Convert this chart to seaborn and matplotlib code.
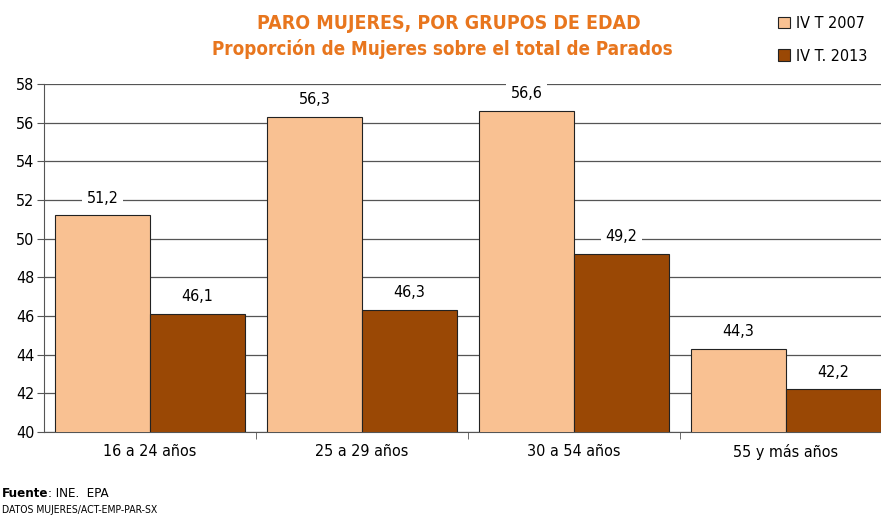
import seaborn as sns
import matplotlib.pyplot as plt
import pandas as pd

# datos
grupos = ['16 a 24 años', '25 a 29 años', '30 a 54 años', '55 y más años']
serie_2007 = [51.2, 56.3, 56.6, 44.3]
serie_2013 = [46.1, 46.3, 49.2, 42.2]
series = ['IV T 2007', 'IV T. 2013']
colores = ['#F9C192', '#9A4805']

df = pd.DataFrame({
    'grupo': grupos * 2,
    'valor': serie_2007 + serie_2013,
    'serie': [series[0]] * 4 + [series[1]] * 4,
})

sns.set_style('white', {'text.color': 'black', 'xtick.color': 'black',
                        'ytick.color': 'black'})
plt.rcParams['font.family'] = ['DejaVu Sans']
plt.rcParams['font.stretch'] = 'condensed'

fig = plt.figure(figsize=(8.81, 5.16), dpi=100)
ax = fig.add_axes([44 / 881, 0.163, 848 / 881, 0.674])

sns.barplot(data=df, x='grupo', y='valor', hue='serie', palette=colores,
            saturation=1, width=0.896, edgecolor='#222222', linewidth=0.8,
            ax=ax, zorder=3)

ax.set_ylim(40, 58)
ax.set_yticks(range(40, 59, 2))
ax.set_xlim(-0.5, 3.5)
ax.yaxis.grid(True, color='#555555', linewidth=0.9, zorder=0)
ax.set_axisbelow(True)
ax.set_xlabel('')
ax.set_ylabel('')
for lado in ['top', 'right']:
    ax.spines[lado].set_visible(False)
for lado in ['left', 'bottom']:
    ax.spines[lado].set_color('#555555')

ax.tick_params(axis='y', length=5, color='#555555', labelsize=11.5, pad=2, left=True,
               labelcolor='black')
ax.tick_params(axis='x', length=0, labelsize=11.5, pad=9, labelcolor='black')
ax.set_xticks([0.5, 1.5, 2.5], minor=True)
ax.tick_params(axis='x', which='minor', length=5, color='#555555', bottom=True)

for cont in ax.containers:
    ax.bar_label(cont, labels=[f'{v:.1f}'.replace('.', ',') for v in cont.datavalues],
                 padding=7, fontsize=11.5, color='black',
                 bbox=dict(facecolor='white', edgecolor='none', pad=3))

leg = ax.legend(loc='upper left', bbox_to_anchor=(0.849, 1.237), frameon=False,
                fontsize=11.5, handlelength=0.7, handleheight=0.7, handletextpad=0.4,
                labelspacing=1.1)
for t in leg.get_texts():
    t.set_color('black')

fig.text(0.51, 0.955, 'PARO MUJERES, POR GRUPOS DE EDAD', ha='center', va='center',
         color='#E8761E', fontsize=14, fontweight='bold')
fig.text(0.502, 0.906, 'Proporción de Mujeres sobre el total de Parados', ha='center',
         va='center', color='#E8761E', fontsize=13.5, fontweight='bold')

fig.text(0.002, 0.043, 'Fuente', fontsize=9.5, fontweight='bold', va='center', color='black')
fig.text(0.054, 0.043, ': INE.  EPA', fontsize=9.5, va='center', color='black')
fig.text(0.002, 0.012, 'DATOS MUJERES/ACT-EMP-PAR-SX', fontsize=7.5, va='center',
         color='black')

fig.savefig('out.png', dpi=100)
